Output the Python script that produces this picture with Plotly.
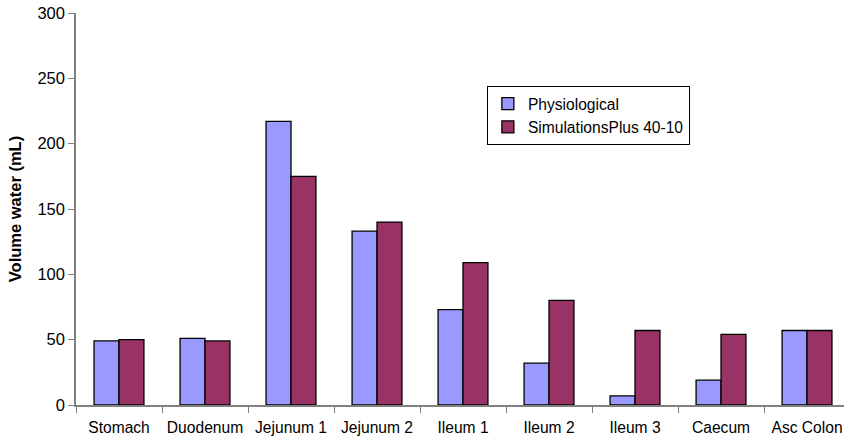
import plotly.graph_objects as go

segments = ["Stomach", "Duodenum", "Jejunum 1", "Jejunum 2", "Ileum 1",
            "Ileum 2", "Ileum 3", "Caecum", "Asc Colon"]
physiological = [49, 51, 217, 133, 73, 32, 7, 19, 57]
simulations_plus = [50, 49, 175, 140, 109, 80, 57, 54, 57]
y_ticks = [0, 50, 100, 150, 200, 250, 300]

fig = go.Figure()
fig.add_trace(go.Bar(
    x=segments, y=physiological, name="Physiological",
    marker=dict(color="#9999FF", line=dict(color="#000000", width=1.3)),
))
fig.add_trace(go.Bar(
    x=segments, y=simulations_plus, name="SimulationsPlus 40-10",
    marker=dict(color="#993366", line=dict(color="#000000", width=1.3)),
))

fig.update_layout(
    width=844, height=438,
    margin=dict(l=76, r=0, t=13, b=33),
    paper_bgcolor="white", plot_bgcolor="white",
    barmode="group", bargap=0.42, bargroupgap=0,
    font=dict(family="Arial, Liberation Sans, sans-serif", size=15.6, color="#000000"),
    showlegend=True,
    legend=dict(
        x=0.535, y=0.814, xanchor="left", yanchor="top",
        bordercolor="#000000", borderwidth=1, bgcolor="white",
        font=dict(size=15.6), tracegroupgap=4, itemwidth=30,
    ),
    xaxis=dict(
        type="category", range=[-0.5, 8.43],
        showline=True, linecolor="#808080", linewidth=1.5,
        ticks="outside", tickson="boundaries", ticklen=6, tickcolor="#808080",
        showgrid=False, tickfont=dict(size=15.6), ticklabelstandoff=8,
    ),
    yaxis=dict(
        range=[0, 300], tickvals=y_ticks,
        showline=True, linecolor="#808080", linewidth=1.5,
        ticks="outside", ticklen=6, tickcolor="#808080",
        showgrid=False, zeroline=False, tickfont=dict(size=16.5),
        title=dict(text="<b>Volume water (mL)</b>", font=dict(size=16.5), standoff=12),
    ),
)

fig.write_html("out.html")
